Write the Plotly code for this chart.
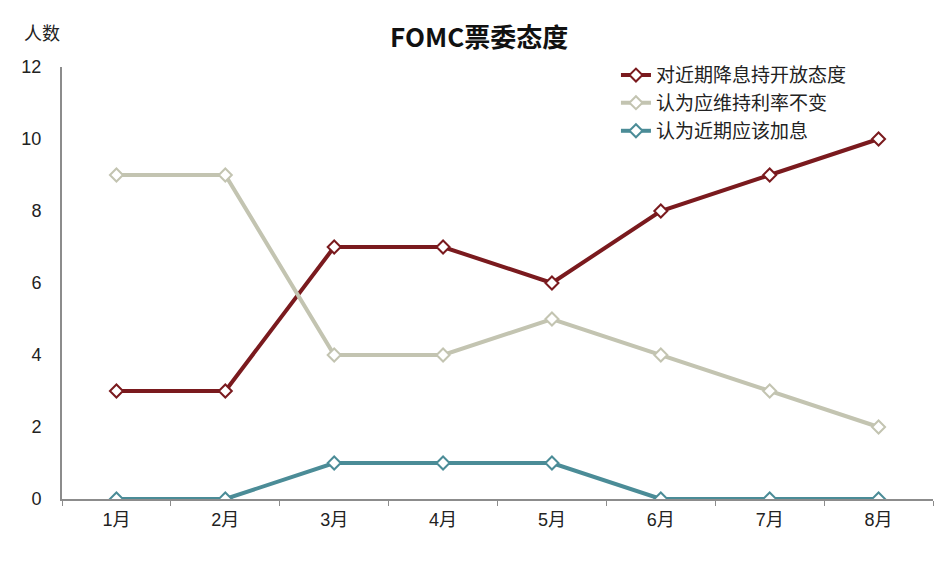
import plotly.graph_objects as go

months = ['1月', '2月', '3月', '4月', '5月', '6月', '7月', '8月']
easing = [3, 3, 7, 7, 6, 8, 9, 10]
hold = [9, 9, 4, 4, 5, 4, 3, 2]
hike = [0, 0, 1, 1, 1, 0, 0, 0]

series_names = ['对近期降息持开放态度', '认为应维持利率不变', '认为近期应该加息']
series_colors = ['#7A1A1E', '#C3C4B1', '#4B8C97']
legend_ids = ['legend', 'legend2', 'legend3']
legend_y = [0.981, 0.917, 0.852]

fig = go.Figure()
for name, vals, color, lg in zip(series_names, [easing, hold, hike], series_colors, legend_ids):
    fig.add_trace(go.Scatter(
        x=months, y=vals, name=name, mode='lines+markers', legend=lg,
        line=dict(color=color, width=4),
        marker=dict(symbol='diamond', size=10, color='white', line=dict(color=color, width=2)),
    ))

legend_style = dict(x=0.636, xanchor='left', yanchor='middle', bgcolor='rgba(0,0,0,0)',
                    font=dict(size=19, color='#222222', family='Noto Sans CJK SC'))

fig.update_layout(
    width=950, height=562,
    margin=dict(l=54, r=25, t=59, b=71),
    paper_bgcolor='white', plot_bgcolor='white',
    font=dict(family='Liberation Sans, Noto Sans CJK SC', size=18, color='#222222'),
    title=dict(text='<b>FOMC票委态度</b>', x=0.496, xanchor='center', y=0.947, yanchor='middle',
               font=dict(size=26, color='#111111', family='Noto Sans CJK SC')),
    showlegend=True,
    legend=dict(y=legend_y[0], **legend_style),
    legend2=dict(y=legend_y[1], **legend_style),
    legend3=dict(y=legend_y[2], **legend_style),
)
fig.update_xaxes(
    type='category', range=[-0.5, len(months) - 0.5],
    showline=True, linecolor='#8C8C8C', linewidth=2,
    tickson='boundaries', ticks='outside', ticklen=5, tickcolor='#8C8C8C',
    showgrid=False, zeroline=False, ticklabelstandoff=3,
)
fig.update_yaxes(
    range=[0, 12], dtick=2, showline=True, linecolor='#8C8C8C', linewidth=2,
    ticks='', showgrid=False, zeroline=False, ticklabelstandoff=15,
)
fig.add_annotation(text='人数', xref='paper', yref='paper', x=-0.023, y=1.081,
                   xanchor='center', yanchor='middle', showarrow=False,
                   font=dict(size=18, family='Noto Sans CJK SC'))

fig.write_html("out.html")
